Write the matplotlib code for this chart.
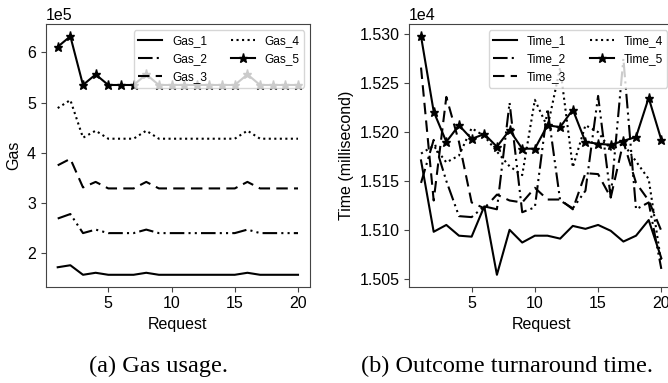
import numpy as np
import matplotlib
matplotlib.use('Agg')
import matplotlib.pyplot as plt

plt.rcParams['font.family'] = ['Liberation Sans', 'DejaVu Sans']

requests = np.arange(1, 21)

# gas usage (units of gas)
gas_1 = [1.72e5, 1.76e5, 1.57e5, 1.61e5, 1.57e5, 1.57e5, 1.57e5, 1.61e5, 1.57e5, 1.57e5,
         1.57e5, 1.57e5, 1.57e5, 1.57e5, 1.57e5, 1.61e5, 1.57e5, 1.57e5, 1.57e5, 1.57e5]
gas_2 = [2.69e5, 2.78e5, 2.40e5, 2.47e5, 2.40e5, 2.40e5, 2.40e5, 2.47e5, 2.40e5, 2.40e5,
         2.40e5, 2.40e5, 2.40e5, 2.40e5, 2.40e5, 2.47e5, 2.40e5, 2.40e5, 2.40e5, 2.40e5]
gas_3 = [3.75e5, 3.88e5, 3.31e5, 3.42e5, 3.29e5, 3.29e5, 3.29e5, 3.42e5, 3.29e5, 3.29e5,
         3.29e5, 3.29e5, 3.29e5, 3.29e5, 3.29e5, 3.42e5, 3.29e5, 3.29e5, 3.29e5, 3.29e5]
gas_4 = [4.89e5, 5.05e5, 4.30e5, 4.44e5, 4.28e5, 4.28e5, 4.28e5, 4.44e5, 4.28e5, 4.28e5,
         4.28e5, 4.28e5, 4.28e5, 4.28e5, 4.28e5, 4.44e5, 4.28e5, 4.28e5, 4.28e5, 4.28e5]
gas_5 = [6.11e5, 6.32e5, 5.35e5, 5.56e5, 5.35e5, 5.35e5, 5.35e5, 5.56e5, 5.35e5, 5.35e5,
         5.35e5, 5.35e5, 5.35e5, 5.35e5, 5.35e5, 5.56e5, 5.35e5, 5.35e5, 5.35e5, 5.35e5]

# turnaround time (millisecond)
time_1 = [15171, 15098, 15105, 15094, 15093, 15124, 15054, 15100, 15087, 15094,
          15094, 15091, 15104, 15101, 15105, 15099, 15088, 15094, 15110, 15071]
time_2 = [15148, 15192, 15150, 15114, 15113, 15124, 15121, 15230, 15118, 15123,
          15224, 15130, 15122, 15140, 15237, 15133, 15275, 15121, 15128, 15060]
time_3 = [15266, 15130, 15236, 15190, 15128, 15122, 15136, 15130, 15128, 15143,
          15131, 15131, 15121, 15158, 15157, 15133, 15190, 15148, 15130, 15099]
time_4 = [15178, 15186, 15169, 15176, 15204, 15196, 15180, 15165, 15156, 15233,
          15205, 15266, 15164, 15207, 15200, 15182, 15188, 15170, 15152, 15066]
time_5 = [15298, 15221, 15190, 15207, 15193, 15198, 15185, 15202, 15183, 15183,
          15207, 15205, 15223, 15190, 15188, 15187, 15191, 15195, 15235, 15192]

styles = [dict(ls='-'), dict(ls=(0, (7, 2, 1, 2, 1, 2))), dict(ls=(0, (5.5, 3))),
          dict(ls=':'), dict(ls='-', marker='*', ms=6.5)]

fig = plt.figure(figsize=(6.68, 3.83), dpi=100)
ax1 = fig.add_axes([0.0684, 0.2514, 0.3957, 0.685])
ax2 = fig.add_axes([0.6123, 0.2514, 0.3957, 0.685])

for k, ys in enumerate([gas_1, gas_2, gas_3, gas_4, gas_5]):
    ax1.plot(requests, ys, color='black', lw=1.5, label='Gas_%d' % (k + 1), **styles[k])
for k, ys in enumerate([time_1, time_2, time_3, time_4, time_5]):
    ax2.plot(requests, ys, color='black', lw=1.5, label='Time_%d' % (k + 1), **styles[k])

ax1.set_ylabel('Gas', fontsize=11.5)
ax2.set_ylabel('Time (millisecond)', fontsize=11.5)
ax1.ticklabel_format(axis='y', style='sci', scilimits=(5, 5), useOffset=False)
ax2.ticklabel_format(axis='y', style='sci', scilimits=(4, 4), useOffset=False)
ax2.set_yticks([15050, 15100, 15150, 15200, 15250, 15300])

for ax in (ax1, ax2):
    ax.set_xlabel('Request', fontsize=11.5)
    ax.set_xticks([5, 10, 15, 20])
    ax.tick_params(labelsize=11.5, color='#444444')
    ax.yaxis.get_offset_text().set_fontsize(11.5)
    for s in ax.spines.values():
        s.set_color('#444444')
    ax.legend(loc='upper right', ncol=2, fontsize=8.6)

fig.text(0.237, 0.043, '(a) Gas usage.', ha='center', va='center',
         family='Liberation Serif', fontsize=17.5)
fig.text(0.7595, 0.043, '(b) Outcome turnaround time.', ha='center', va='center',
         family='Liberation Serif', fontsize=17.5)

fig.savefig('out.png', dpi=100)
